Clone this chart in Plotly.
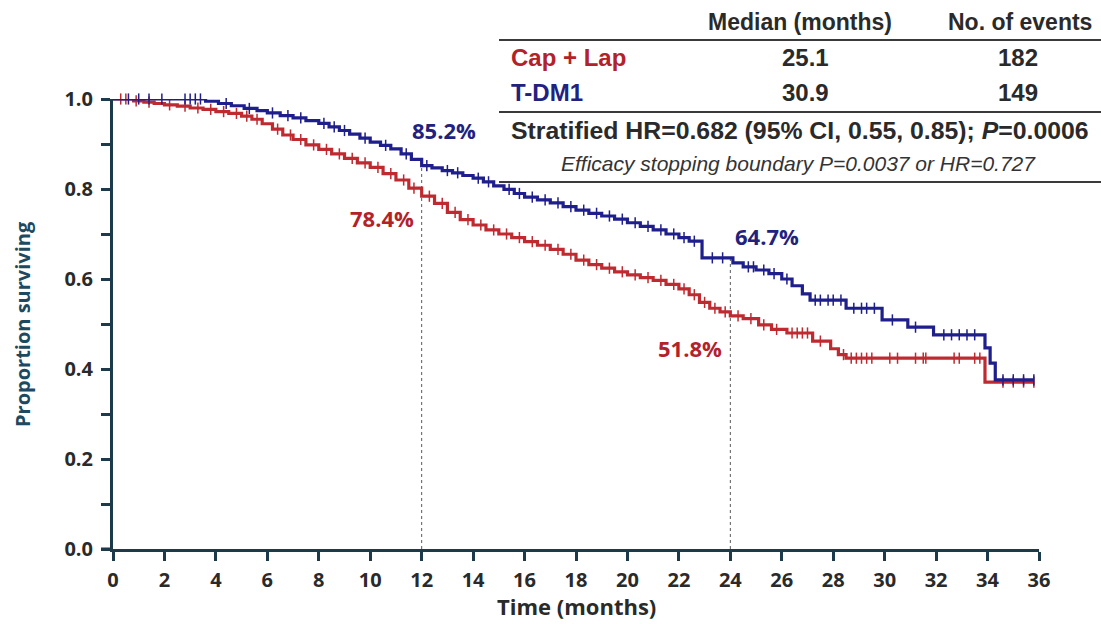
import plotly.graph_objects as go

# ---- Kaplan-Meier estimates (months, proportion surviving) ----
tdm1_time = [0, 3.6, 4.1, 4.6, 5.1, 5.6, 6.0, 6.5, 7.0, 7.5, 8.0, 8.4, 8.8, 9.2, 9.6,
             10.0, 10.4, 10.8, 11.2, 11.6, 12.0, 12.4, 12.8, 13.2, 13.6, 14.0, 14.4,
             14.8, 15.2, 15.6, 16.0, 16.5, 17.0, 17.5, 18.0, 18.5, 19.0, 19.5, 20.0,
             20.5, 21.0, 21.5, 22.0, 22.4, 22.9, 24.1, 24.5, 25.0, 25.5, 26.0, 26.4,
             26.8, 27.1, 28.5, 29.9, 30.9, 31.9, 33.9, 34.1, 34.3]
tdm1_surv = [1.0, 0.995, 0.99, 0.985, 0.979, 0.974, 0.969, 0.963, 0.958, 0.952, 0.946,
             0.938, 0.93, 0.922, 0.913, 0.904, 0.897, 0.889, 0.878, 0.866, 0.852, 0.847,
             0.841, 0.836, 0.83, 0.824, 0.816, 0.807, 0.799, 0.79, 0.782, 0.776, 0.769,
             0.761, 0.753, 0.746, 0.74, 0.733, 0.725, 0.717, 0.709, 0.70, 0.692, 0.684,
             0.647, 0.636, 0.627, 0.62, 0.612, 0.60, 0.585, 0.567, 0.553, 0.535, 0.509,
             0.493, 0.476, 0.447, 0.413, 0.376]
tdm1_censor = [0.6, 1.0, 1.4, 1.9, 2.8, 3.0, 3.2, 3.4, 4.4, 5.3, 6.2, 6.8, 7.3, 8.2, 8.6,
               9.0, 9.8, 10.6, 11.4, 12.2, 13.0, 13.4, 14.2, 14.6, 15.4, 15.8, 16.3,
               16.8, 17.3, 17.8, 18.3, 18.8, 19.3, 19.8, 20.3, 20.8, 21.3, 21.8, 22.2,
               22.6, 23.3, 23.7, 24.7, 24.9, 25.3, 25.7, 26.2, 27.3, 27.5, 27.8, 28.0,
               28.3, 28.8, 29.1, 29.3, 29.6, 30.3, 31.2, 32.3, 32.6, 32.9, 33.2, 33.5,
               34.6, 35.0, 35.4, 35.8]

caplap_time = [0, 0.8, 1.2, 1.6, 2.0, 2.5, 3.0, 3.5, 4.0, 4.5, 5.0, 5.4, 5.8, 6.2, 6.6,
               7.0, 7.5, 8.0, 8.5, 9.0, 9.5, 10.0, 10.5, 11.0, 11.5, 12.0, 12.5, 13.0,
               13.5, 14.0, 14.5, 15.0, 15.5, 16.0, 16.5, 17.0, 17.5, 18.0, 18.5, 19.0,
               19.5, 20.0, 20.5, 21.0, 21.5, 22.0, 22.4, 22.8, 23.2, 23.6, 24.0, 24.5,
               25.1, 25.6, 26.2, 27.2, 27.9, 28.2, 28.5, 33.9]
caplap_surv = [1.0, 0.996, 0.993, 0.99, 0.987, 0.984, 0.98, 0.977, 0.972, 0.968, 0.962,
               0.955, 0.945, 0.933, 0.92, 0.91, 0.898, 0.888, 0.878, 0.868, 0.858, 0.848,
               0.834, 0.82, 0.802, 0.784, 0.768, 0.748, 0.732, 0.72, 0.709, 0.70, 0.692,
               0.683, 0.675, 0.666, 0.655, 0.642, 0.632, 0.624, 0.616, 0.609, 0.603,
               0.597, 0.588, 0.578, 0.565, 0.548, 0.535, 0.527, 0.518, 0.512, 0.498,
               0.488, 0.48, 0.462, 0.445, 0.432, 0.424, 0.371]
caplap_censor = [0.3, 0.5, 0.9, 1.4, 2.2, 2.8, 3.3, 3.8, 4.3, 4.8, 5.2, 5.6, 6.4, 6.9, 7.3,
                 7.8, 8.3, 8.8, 9.3, 9.8, 10.3, 10.8, 11.3, 11.7, 12.3, 12.8, 13.3, 13.8,
                 14.3, 14.8, 15.3, 15.8, 16.3, 16.8, 17.3, 17.8, 18.3, 18.8, 19.3, 19.8,
                 20.3, 20.8, 21.3, 21.8, 22.2, 22.6, 23.0, 23.4, 23.8, 24.3, 24.8, 25.3,
                 25.8, 26.4, 26.6, 26.8, 27.0, 27.5, 28.4, 28.7, 28.9, 29.1, 29.3, 29.5,
                 30.2, 30.5, 31.2, 31.5, 31.6, 32.7, 32.9, 33.5, 33.7, 34.6, 35.0, 35.4,
                 35.8]

landmark_months = [12, 24]
x_ticks = list(range(0, 37, 2))
y_ticks = [0.0, 0.2, 0.4, 0.6, 0.8, 1.0]

# summary table
table_header = ["Median (months)", "No. of events"]
arm_names = ["Cap + Lap", "T-DM1"]
arm_median = ["25.1", "30.9"]
arm_events = ["182", "149"]
hr_text = "Stratified HR=0.682 (95% CI, 0.55, 0.85); <i>P</i>=0.0006"
boundary_text = "<i>Efficacy stopping boundary P=0.0037 or HR=0.727</i>"

RED = "#bf2a31"
BLUE = "#1e1e8c"
RED_TXT = "#b3222b"
BLUE_TXT = "#22227e"
AXIS = "#1c3a4b"
TXT = "#2a2a2a"


def surv_at(times, surv, t):
    """Value of the step function at time t."""
    val = surv[0]
    for ti, si in zip(times, surv):
        if ti <= t:
            val = si
        else:
            break
    return val


fig = go.Figure()

arms = [
    ("Cap + Lap", caplap_time, caplap_surv, caplap_censor, RED),
    ("T-DM1", tdm1_time, tdm1_surv, tdm1_censor, BLUE),
]

# dotted landmark lines, from the axis up to the upper curve
for m in landmark_months:
    top = max(surv_at(tdm1_time, tdm1_surv, m), surv_at(caplap_time, caplap_surv, m))
    fig.add_trace(go.Scatter(x=[m, m], y=[0, top], mode="lines",
                             line=dict(color="#5a5a5a", width=1, dash="dot"),
                             hoverinfo="skip", showlegend=False))

for name, t, s, cens, col in arms:
    end_t = max(cens)
    fig.add_trace(go.Scatter(
        x=t + [end_t], y=s + [s[-1]], mode="lines", name=name,
        line=dict(color=col, width=3.2, shape="hv"), cliponaxis=False,
        showlegend=False))
    fig.add_trace(go.Scatter(
        x=cens, y=[surv_at(t, s, c) for c in cens], mode="markers",
        marker=dict(symbol="line-ns", size=8, line=dict(color=col, width=1.5)),
        cliponaxis=False, showlegend=False, hoverinfo="skip"))

# landmark percentages
label_pos = {
    ("T-DM1", 12): (12.87, 0.931),
    ("Cap + Lap", 12): (10.46, 0.736),
    ("T-DM1", 24): (25.43, 0.696),
    ("Cap + Lap", 24): (22.43, 0.447),
}
for name, t, s, cens, col in arms:
    for m in landmark_months:
        v = surv_at(t, s, m)
        lx, ly = label_pos[(name, m)]
        fig.add_annotation(x=lx, y=ly, xref="x", yref="y", showarrow=False,
                           xanchor="center", yanchor="middle",
                           text=f"<b>{v * 100:.1f}%</b>",
                           font=dict(family="Open Sans", size=22,
                                     color=BLUE_TXT if name == "T-DM1" else RED_TXT))

# ---- layout geometry (pixels) ----
W, H = 1101, 624
L, R, T, B = 113, 62, 99, 75
PW, PH = W - L - R, H - T - B


def px(x):
    return (x - L) / PW


def py(y):
    return (H - B - y) / PH


tab_font = dict(family="Liberation Sans", size=24, color=TXT)


def tab_text(x, y, text, anchor="center", font=None):
    fig.add_annotation(x=px(x), y=py(y), xref="paper", yref="paper",
                       xanchor=anchor, yanchor="middle", showarrow=False,
                       text=text, font=font or tab_font)


head_font = dict(family="Liberation Sans", size=23, color=TXT)
tab_text(800, 22, f"<b>{table_header[0]}</b>", font=head_font)
tab_text(1020, 22, f"<b>{table_header[1]}</b>", font=head_font)
row_y = [58, 92]
row_col = [RED_TXT, BLUE_TXT]
for i in range(2):
    tab_text(509, row_y[i], f"<b>{arm_names[i]}</b>", anchor="left",
             font=dict(family="Liberation Sans", size=24, color=row_col[i]))
    tab_text(805, row_y[i], f"<b>{arm_median[i]}</b>")
    tab_text(1018, row_y[i], f"<b>{arm_events[i]}</b>")
tab_text(509, 130, f"<b>{hr_text}</b>", anchor="left",
         font=dict(family="Liberation Sans", size=24.8, color=TXT))
tab_text(798, 163, boundary_text,
         font=dict(family="Liberation Sans", size=21, color="#333333"))

for yline in [40, 112, 182]:
    fig.add_shape(type="line", xref="paper", yref="paper",
                  x0=px(499), x1=px(W), y0=py(yline), y1=py(yline),
                  line=dict(color="#3a3a3a", width=2))

# stub of the x axis reaching left of the y axis
fig.add_shape(type="line", xref="paper", yref="paper", x0=px(101), x1=0, y0=0, y1=0,
              line=dict(color=AXIS, width=3))

# axis titles
fig.add_annotation(x=px(22), y=0.5, xref="paper", yref="paper", textangle=-90,
                   xanchor="center", yanchor="middle",
                   showarrow=False, text="<b>Proportion surviving</b>",
                   font=dict(family="Open Sans", size=20, color="#1d4a60"))
fig.add_annotation(x=0.5, y=py(606), xref="paper", yref="paper", showarrow=False,
                   xanchor="center", yanchor="middle",
                   text="<b>Time (months)</b>",
                   font=dict(family="Open Sans", size=22, color=TXT))

tick_font = dict(family="Open Sans", size=20, color=TXT)
fig.update_layout(
    width=W, height=H, autosize=False,
    margin=dict(l=L, r=R, t=T, b=B, pad=0),
    paper_bgcolor="white", plot_bgcolor="white",
    showlegend=False,
    xaxis=dict(range=[0, 36], tickvals=x_ticks, ticktext=[f"<b>{v}</b>" for v in x_ticks],
               showgrid=False, zeroline=False, showline=True, linecolor=AXIS, linewidth=3,
               ticks="outside", ticklen=9, tickwidth=2.5, tickcolor=AXIS,
               ticklabelstandoff=2,
               tickfont=tick_font, fixedrange=True),
    yaxis=dict(range=[0, 1], tickvals=y_ticks,
               ticktext=[f"<b>{v:.1f}</b>" for v in y_ticks],
               showgrid=False, zeroline=False, showline=True, linecolor=AXIS, linewidth=3,
               ticks="outside", ticklen=9, tickwidth=2.5, tickcolor=AXIS,
               ticklabelstandoff=4,
               tickfont=tick_font, fixedrange=True,
               minor=dict(dtick=0.1, ticks="outside", ticklen=9, tickwidth=2.5,
                          tickcolor=AXIS, showgrid=False)),
)

fig.write_html("out.html")
